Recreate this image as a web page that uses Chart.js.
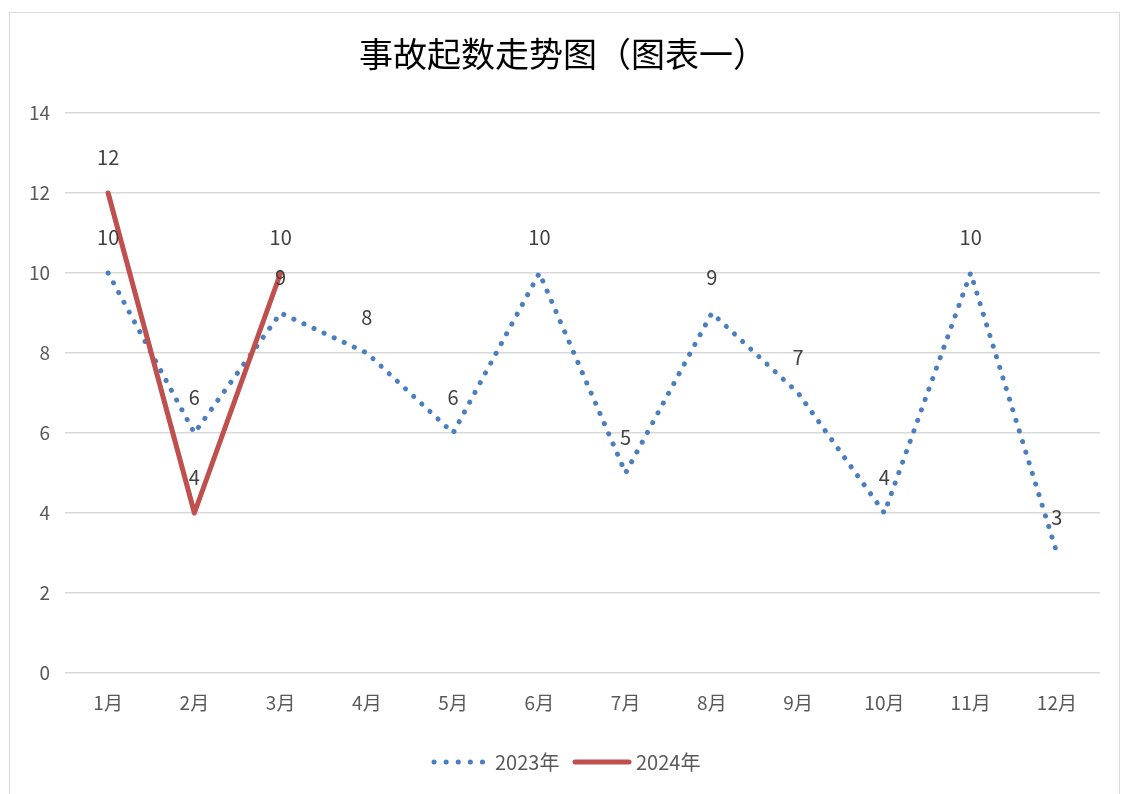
<!DOCTYPE html>
<html>
<head>
<meta charset="utf-8">
<script src="https://cdn.jsdelivr.net/npm/chart.js@4/dist/chart.umd.min.js"></script>
<style>
  html, body { margin: 0; padding: 0; background: #fff; }
  #wrap { position: relative; width: 1123px; height: 794px; }
  #frame { position: absolute; left: 9px; top: 12px; width: 1111px; height: 790px; border: 1px solid #d9d9d9; box-sizing: border-box; }
  canvas { position: absolute; left: 0; top: 0; }
</style>
</head>
<body>
<div id="wrap">
  <div id="frame"></div>
  <canvas id="accident-chart" width="1123" height="794"></canvas>
</div>
<script>
// 事故起数
const months = ['1月', '2月', '3月', '4月', '5月', '6月', '7月', '8月', '9月', '10月', '11月', '12月'];
const data2023 = [10, 6, 9, 8, 6, 10, 5, 9, 7, 4, 10, 3];
const data2024 = [12, 4, 10];
const seriesNames = ['2023年', '2024年'];
const titleText = '事故起数走势图（图表一）';

const fontFamily = '"Noto Sans CJK SC", "Noto Sans", sans-serif';
const blue = '#4a7ebf';
const red = '#c0504d';

// 数据标签 + 标题 + 图例
const extrasPlugin = {
    id: 'extras',
    afterDatasetsDraw(chart) {
        const ctx = chart.ctx;
        ctx.save();
        ctx.font = '20px ' + fontFamily;
        ctx.fillStyle = '#404040';
        ctx.textAlign = 'center';
        ctx.textBaseline = 'middle';
        chart.data.datasets.forEach((ds, i) => {
            const meta = chart.getDatasetMeta(i);
            meta.data.forEach((pt, j) => {
                ctx.fillText(String(ds.data[j]), pt.x, pt.y - 36);
            });
        });
        ctx.restore();
    },
    afterDraw(chart) {
        const ctx = chart.ctx;
        ctx.save();
        // 标题
        ctx.font = '34px ' + fontFamily;
        ctx.fillStyle = '#000';
        ctx.textAlign = 'center';
        ctx.textBaseline = 'middle';
        ctx.fillText(titleText, 563, 54);

        // 图例
        const y = 762;
        ctx.lineWidth = 5;
        ctx.lineCap = 'round';
        ctx.strokeStyle = blue;
        ctx.setLineDash([0.1, 12]);
        ctx.beginPath();
        ctx.moveTo(434, y);
        ctx.lineTo(483, y);
        ctx.stroke();
        ctx.setLineDash([]);
        ctx.strokeStyle = red;
        ctx.beginPath();
        ctx.moveTo(575, y);
        ctx.lineTo(629, y);
        ctx.stroke();

        ctx.font = '20px ' + fontFamily;
        ctx.fillStyle = '#595959';
        ctx.textAlign = 'left';
        ctx.fillText(seriesNames[0], 495, y);
        ctx.fillText(seriesNames[1], 636, y);
        ctx.restore();
    }
};

const ctx = document.getElementById('accident-chart').getContext('2d');

const accidentChart = new Chart(ctx, {
    type: 'line',
    data: {
        labels: months,
        datasets: [{
            label: seriesNames[0],
            data: data2023,
            borderColor: blue,
            borderWidth: 5,
            borderDash: [0.1, 11],
            borderCapStyle: 'round',
            pointRadius: 0,
            tension: 0,
            order: 1
        }, {
            label: seriesNames[1],
            data: data2024,
            borderColor: red,
            borderWidth: 5,
            borderCapStyle: 'round',
            borderJoinStyle: 'round',
            pointRadius: 0,
            tension: 0,
            order: 0
        }]
    },
    options: {
        responsive: false,
        animation: false,
        layout: {
            padding: { left: 10, right: 23, top: 113, bottom: 0 }
        },
        plugins: {
            legend: { display: false },
            title: { display: false },
            tooltip: { enabled: false }
        },
        scales: {
            x: {
                offset: true,
                grid: { display: false, drawTicks: false },
                border: { display: false },
                ticks: {
                    color: '#595959',
                    padding: 18,
                    maxRotation: 0,
                    font: { size: 19, family: fontFamily }
                },
                afterFit(scale) { scale.height = 121; }
            },
            y: {
                min: 0,
                max: 14,
                ticks: {
                    stepSize: 2,
                    color: '#595959',
                    padding: 15,
                    font: { size: 19, family: fontFamily }
                },
                grid: { color: '#d9d9d9', lineWidth: 1.5, drawTicks: false },
                border: { display: false },
                afterFit(scale) { scale.width = 55; }
            }
        }
    },
    plugins: [extrasPlugin]
});
</script>
</body>
</html>
